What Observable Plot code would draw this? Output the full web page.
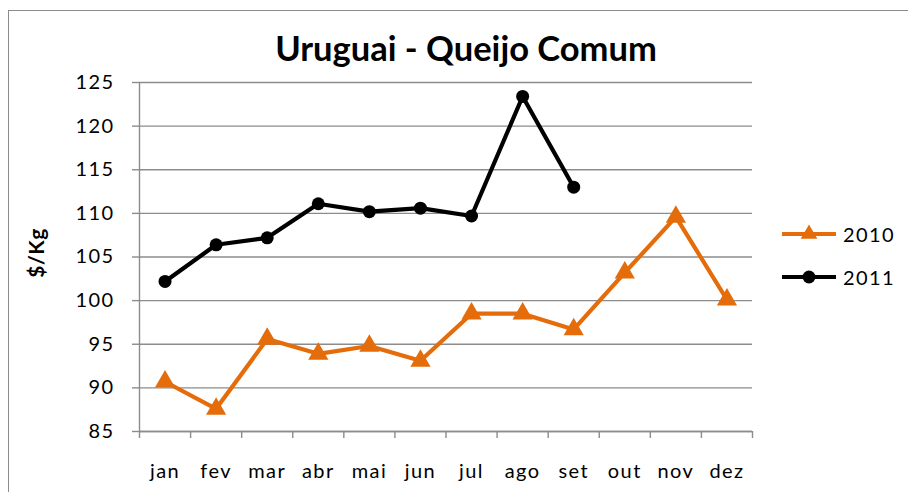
<!DOCTYPE html>
<html>
<head>
<meta charset="utf-8">
<script src="https://cdn.jsdelivr.net/npm/d3@7"></script>
<script src="https://cdn.jsdelivr.net/npm/@observablehq/plot@0.6"></script>
<style>
  html, body { margin: 0; padding: 0; background: #fff; }
  #wrap { position: relative; width: 908px; height: 492px; overflow: hidden; font-family: Lato, "Open Sans", sans-serif; }
  #frame { position: absolute; left: 8px; top: 10px; width: 1000px; height: 600px; border-left: 1.5px solid #8c8c8c; border-top: 1.5px solid #8c8c8c; }
  #chart { position: absolute; left: 0; top: 0; }
  #chart svg text { letter-spacing: 1.4px; }
  #title { position: absolute; left: 0; top: 27px; width: 932px; text-align: center; font-weight: bold; font-size: 34.5px; color: #000; }
  #ylab { position: absolute; left: 35px; top: 253px; transform: translate(-50%, -50%) rotate(-90deg); font-weight: bold; font-size: 21px; white-space: nowrap; letter-spacing: 0.5px; }
  #legend { position: absolute; left: 780px; top: 214px; }
  #legend text { letter-spacing: 1.4px; }
</style>
</head>
<body>
<div id="wrap">
  <div id="frame"></div>
  <div id="chart"></div>
  <div id="title">Uruguai - Queijo Comum</div>
  <div id="ylab">$/Kg</div>
  <div id="legend"></div>
</div>
<script>
const months = ["jan", "fev", "mar", "abr", "mai", "jun", "jul", "ago", "set", "out", "nov", "dez"];
const values2010 = [90.7, 87.6, 95.6, 93.9, 94.8, 93.1, 98.5, 98.5, 96.7, 103.2, 109.6, 100.1];
const values2011 = [102.2, 106.4, 107.2, 111.1, 110.2, 110.6, 109.7, 123.4, 113.0];
const yTicks = [85, 90, 95, 100, 105, 110, 115, 120, 125];
const seriesNames = ["2010", "2011"];
const colors = ["#E46C0A", "#000000"];

const rows2010 = values2010.map((v, i) => ({ i: i + 0.5, month: months[i], value: v }));
const rows2011 = values2011.map((v, i) => ({ i: i + 0.5, month: months[i], value: v }));

const grid = "#8c8c8c";
const chart = Plot.plot({
  width: 908,
  height: 492,
  marginLeft: 139,
  marginRight: 156,
  marginTop: 82,
  marginBottom: 61,
  style: { fontFamily: "Lato, 'Open Sans', sans-serif", background: "transparent" },
  x: { type: "linear", domain: [0, 12], axis: null },
  y: { domain: [85, 125], axis: null },
  marks: [
    Plot.gridY(yTicks, { stroke: grid, strokeOpacity: 1, strokeWidth: 1.4 }),
    Plot.axisY(yTicks, { tickSize: 7, tickPadding: 18, stroke: grid, strokeWidth: 1.4, fontSize: 20, fill: "#000", label: null }),
    Plot.ruleX([0], { stroke: grid, strokeWidth: 1.4 }),
    Plot.ruleY([85], { stroke: grid, strokeWidth: 1.4 }),
    Plot.axisX(d3.range(13), { tickSize: 7, stroke: grid, strokeWidth: 1.4, tickFormat: () => "", label: null }),
    Plot.axisX(months.map((m, i) => i + 0.5), { tickSize: 0, tickPadding: 32, fontSize: 20, fill: "#000", tickFormat: d => months[Math.round(d - 0.5)], label: null }),
    Plot.line(rows2010, { x: "i", y: "value", stroke: colors[0], strokeWidth: 4.2 }),
    Plot.dot(rows2010, { x: "i", y: "value", symbol: "triangle", fill: colors[0], r: 7.5 }),
    Plot.line(rows2011, { x: "i", y: "value", stroke: colors[1], strokeWidth: 4.2 }),
    Plot.dot(rows2011, { x: "i", y: "value", symbol: "circle", fill: colors[1], r: 6.5 })
  ]
});
document.getElementById("chart").append(chart);

// legend
const lg = d3.select("#legend").append("svg").attr("width", 128).attr("height", 90)
  .style("font-family", "Lato, 'Open Sans', sans-serif");
seriesNames.forEach((name, k) => {
  const g = lg.append("g").attr("transform", `translate(0, ${20 + k * 43})`);
  g.append("line").attr("x1", 2).attr("x2", 56).attr("y1", 0).attr("y2", 0).attr("stroke", colors[k]).attr("stroke-width", 4);
  if (k === 0) {
    g.append("path").attr("d", d3.symbol(d3.symbolTriangle, 120)()).attr("transform", "translate(29,0)").attr("fill", colors[k]);
  } else {
    g.append("circle").attr("cx", 29).attr("cy", 0).attr("r", 6.5).attr("fill", colors[k]);
  }
  g.append("text").attr("x", 63).attr("y", 7.5).attr("font-size", 20).text(name);
});
</script>
</body>
</html>
